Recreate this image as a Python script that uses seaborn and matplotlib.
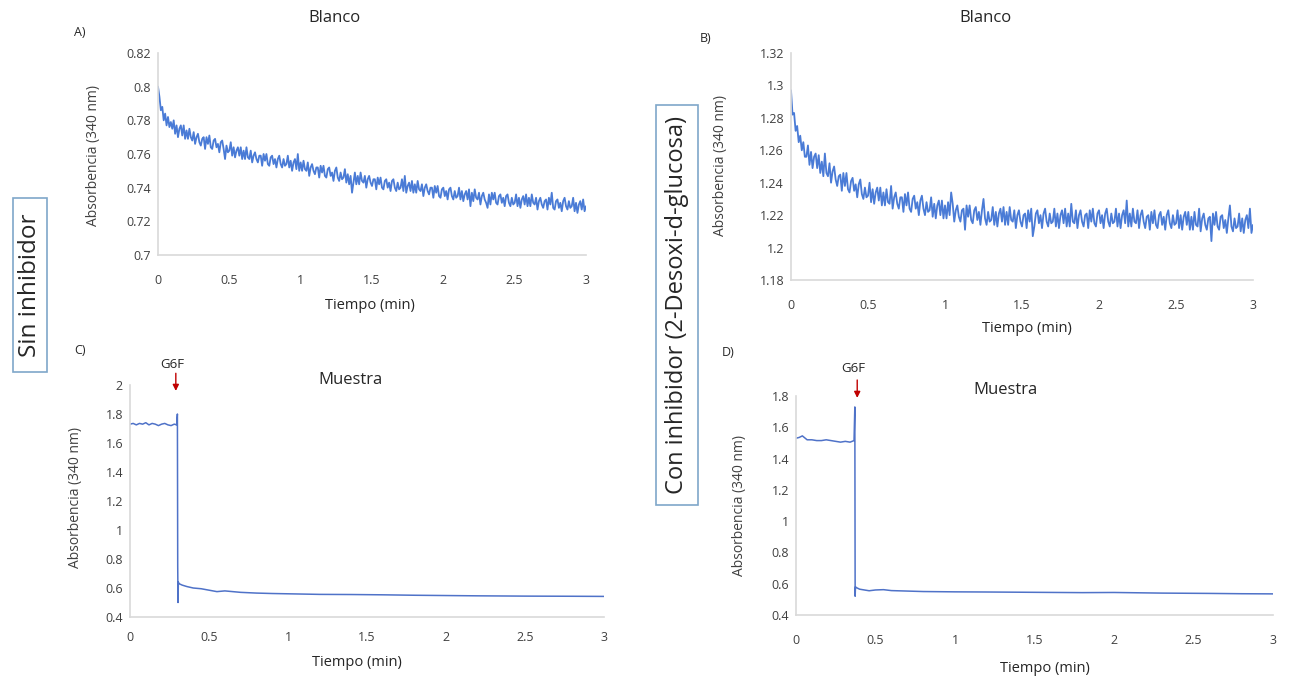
import numpy as np
import matplotlib
matplotlib.use("Agg")
import matplotlib.pyplot as plt
from matplotlib.patches import Rectangle
import seaborn as sns

# ---------------- data ----------------
# Panel A: Blanco, sin inhibidor (one reading every 0.01 min, 0-3 min)
blanco_a = [
    0.800, 0.794, 0.786, 0.788, 0.780, 0.784, 0.777, 0.782, 0.776, 0.779,
    0.775, 0.780, 0.772, 0.777, 0.770, 0.775, 0.777, 0.771, 0.777, 0.769,
    0.774, 0.769, 0.775, 0.770, 0.768, 0.773, 0.766, 0.770, 0.772, 0.767,
    0.765, 0.769, 0.770, 0.763, 0.770, 0.766, 0.771, 0.764, 0.763, 0.768,
    0.769, 0.764, 0.766, 0.761, 0.767, 0.768, 0.763, 0.757, 0.765, 0.761,
    0.762, 0.767, 0.759, 0.764, 0.758, 0.762, 0.764, 0.759, 0.764, 0.757,
    0.762, 0.757, 0.764, 0.758, 0.757, 0.762, 0.755, 0.759, 0.761, 0.757,
    0.755, 0.759, 0.759, 0.753, 0.760, 0.756, 0.760, 0.754, 0.753, 0.758,
    0.759, 0.754, 0.757, 0.752, 0.757, 0.759, 0.754, 0.752, 0.757, 0.753,
    0.754, 0.759, 0.752, 0.756, 0.750, 0.755, 0.757, 0.751, 0.760, 0.750,
    0.755, 0.750, 0.756, 0.751, 0.750, 0.755, 0.747, 0.752, 0.754, 0.750,
    0.748, 0.752, 0.752, 0.746, 0.753, 0.749, 0.753, 0.747, 0.746, 0.751,
    0.752, 0.747, 0.749, 0.744, 0.750, 0.752, 0.746, 0.744, 0.749, 0.745,
    0.746, 0.751, 0.743, 0.748, 0.742, 0.747, 0.737, 0.743, 0.749, 0.742,
    0.747, 0.742, 0.749, 0.744, 0.743, 0.747, 0.740, 0.745, 0.747, 0.743,
    0.741, 0.745, 0.745, 0.739, 0.746, 0.742, 0.746, 0.740, 0.739, 0.744,
    0.745, 0.740, 0.743, 0.738, 0.744, 0.745, 0.740, 0.738, 0.743, 0.739,
    0.740, 0.745, 0.738, 0.747, 0.737, 0.741, 0.743, 0.738, 0.744, 0.737,
    0.742, 0.737, 0.744, 0.739, 0.738, 0.742, 0.735, 0.740, 0.742, 0.738,
    0.736, 0.740, 0.740, 0.734, 0.741, 0.737, 0.741, 0.735, 0.734, 0.739,
    0.740, 0.735, 0.738, 0.733, 0.739, 0.740, 0.735, 0.733, 0.738, 0.734,
    0.735, 0.740, 0.733, 0.738, 0.732, 0.736, 0.738, 0.733, 0.739, 0.729,
    0.737, 0.732, 0.739, 0.734, 0.733, 0.737, 0.730, 0.735, 0.737, 0.733,
    0.731, 0.728, 0.736, 0.730, 0.737, 0.733, 0.737, 0.731, 0.730, 0.735,
    0.736, 0.731, 0.734, 0.729, 0.735, 0.736, 0.731, 0.729, 0.734, 0.730,
    0.731, 0.736, 0.729, 0.734, 0.728, 0.733, 0.735, 0.730, 0.736, 0.729,
    0.734, 0.729, 0.736, 0.731, 0.730, 0.734, 0.727, 0.732, 0.734, 0.730,
    0.728, 0.732, 0.733, 0.727, 0.734, 0.730, 0.737, 0.728, 0.727, 0.732,
    0.733, 0.728, 0.731, 0.726, 0.732, 0.734, 0.729, 0.727, 0.732, 0.728,
    0.729, 0.734, 0.726, 0.731, 0.725, 0.730, 0.732, 0.727, 0.733, 0.726,
    0.729,
]
# Panel B: Blanco, con inhibidor (same sampling)
blanco_b = [
    1.297, 1.282, 1.283, 1.272, 1.275, 1.265, 1.269, 1.260, 1.265, 1.256,
    1.256, 1.263, 1.251, 1.259, 1.249, 1.256, 1.258, 1.249, 1.257, 1.246,
    1.253, 1.244, 1.258, 1.246, 1.244, 1.252, 1.240, 1.247, 1.250, 1.242,
    1.238, 1.244, 1.245, 1.235, 1.246, 1.238, 1.246, 1.236, 1.234, 1.241,
    1.243, 1.235, 1.239, 1.231, 1.239, 1.242, 1.233, 1.230, 1.237, 1.231,
    1.232, 1.240, 1.228, 1.236, 1.227, 1.234, 1.237, 1.229, 1.237, 1.226,
    1.234, 1.226, 1.236, 1.228, 1.227, 1.238, 1.224, 1.231, 1.234, 1.227,
    1.224, 1.231, 1.231, 1.222, 1.233, 1.226, 1.234, 1.224, 1.222, 1.230,
    1.232, 1.224, 1.228, 1.220, 1.229, 1.232, 1.224, 1.220, 1.228, 1.222,
    1.223, 1.231, 1.219, 1.227, 1.218, 1.226, 1.229, 1.220, 1.229, 1.218,
    1.226, 1.218, 1.228, 1.220, 1.234, 1.227, 1.216, 1.223, 1.226, 1.219,
    1.216, 1.223, 1.224, 1.211, 1.226, 1.219, 1.226, 1.217, 1.215, 1.223,
    1.225, 1.217, 1.222, 1.214, 1.223, 1.230, 1.218, 1.214, 1.222, 1.216,
    1.217, 1.225, 1.214, 1.222, 1.213, 1.221, 1.224, 1.216, 1.225, 1.214,
    1.222, 1.214, 1.225, 1.217, 1.216, 1.223, 1.212, 1.220, 1.223, 1.216,
    1.213, 1.220, 1.221, 1.212, 1.223, 1.216, 1.224, 1.207, 1.213, 1.221,
    1.223, 1.215, 1.220, 1.212, 1.221, 1.224, 1.216, 1.213, 1.221, 1.215,
    1.216, 1.224, 1.213, 1.221, 1.212, 1.220, 1.223, 1.215, 1.224, 1.213,
    1.221, 1.213, 1.227, 1.216, 1.215, 1.223, 1.212, 1.220, 1.223, 1.216,
    1.213, 1.220, 1.221, 1.212, 1.223, 1.216, 1.224, 1.215, 1.213, 1.221,
    1.223, 1.215, 1.220, 1.212, 1.221, 1.224, 1.216, 1.213, 1.221, 1.215,
    1.216, 1.224, 1.213, 1.221, 1.212, 1.220, 1.223, 1.215, 1.229, 1.213,
    1.221, 1.213, 1.224, 1.216, 1.215, 1.223, 1.212, 1.220, 1.223, 1.216,
    1.212, 1.219, 1.220, 1.211, 1.222, 1.215, 1.223, 1.214, 1.212, 1.220,
    1.222, 1.214, 1.219, 1.211, 1.220, 1.223, 1.215, 1.212, 1.220, 1.214,
    1.215, 1.223, 1.212, 1.220, 1.211, 1.219, 1.222, 1.214, 1.222, 1.211,
    1.219, 1.211, 1.222, 1.214, 1.213, 1.224, 1.210, 1.218, 1.221, 1.214,
    1.211, 1.218, 1.219, 1.204, 1.221, 1.214, 1.222, 1.213, 1.211, 1.219,
    1.220, 1.212, 1.217, 1.209, 1.218, 1.226, 1.213, 1.210, 1.218, 1.212,
    1.213, 1.221, 1.210, 1.218, 1.209, 1.217, 1.220, 1.212, 1.224, 1.209,
    1.214,
]
blanco_time = np.arange(len(blanco_a)) * 0.01

# Panel C: Muestra, sin inhibidor
muestra_c_time = [0.00, 0.02, 0.04, 0.06, 0.08, 0.10, 0.12, 0.14, 0.16, 0.18, 0.20,
                  0.22, 0.24, 0.26, 0.28, 0.295,
                  0.300, 0.302, 0.304, 0.306, 0.31, 0.33, 0.36, 0.40, 0.45, 0.50,
                  0.55, 0.60, 0.65, 0.70, 0.80, 0.90, 1.00, 1.20, 1.40, 1.60, 1.80,
                  2.00, 2.20, 2.50, 2.80, 3.00]
muestra_c = [1.73, 1.735, 1.725, 1.735, 1.73, 1.74, 1.725, 1.735, 1.73, 1.72, 1.73,
             1.735, 1.725, 1.72, 1.73, 1.725,
             1.80, 0.75, 0.50, 0.64, 0.63, 0.62, 0.61, 0.60, 0.595, 0.585,
             0.575, 0.58, 0.575, 0.57, 0.565, 0.562, 0.560, 0.556, 0.555, 0.553, 0.550,
             0.548, 0.546, 0.544, 0.543, 0.542]

# Panel D: Muestra, con inhibidor
muestra_d_time = [0.00, 0.02, 0.04, 0.07, 0.10, 0.13, 0.16, 0.19, 0.22, 0.25, 0.28,
                  0.31, 0.34, 0.365, 0.370, 0.372, 0.374, 0.38, 0.40, 0.43, 0.46,
                  0.50, 0.55, 0.60, 0.70, 0.80, 1.00, 1.20, 1.50, 1.80, 2.00, 2.30,
                  2.60, 2.80, 3.00]
muestra_d = [1.53, 1.535, 1.545, 1.52, 1.52, 1.515, 1.515, 1.52, 1.515, 1.51, 1.505,
             1.51, 1.505, 1.515, 1.73, 0.52, 0.58, 0.575, 0.565, 0.560, 0.555,
             0.560, 0.562, 0.556, 0.553, 0.550, 0.548, 0.547, 0.545, 0.543, 0.544, 0.540,
             0.538, 0.536, 0.535]

x_ticks = [0, 0.5, 1, 1.5, 2, 2.5, 3]
x_ticklabels = ["0", "0.5", "1", "1.5", "2", "2.5", "3"]
a_yticks = [0.7, 0.72, 0.74, 0.76, 0.78, 0.8, 0.82]
a_yticklabels = ["0.7", "0.72", "0.74", "0.76", "0.78", "0.8", "0.82"]
b_yticks = [1.18, 1.2, 1.22, 1.24, 1.26, 1.28, 1.3, 1.32]
b_yticklabels = ["1.18", "1.2", "1.22", "1.24", "1.26", "1.28", "1.3", "1.32"]
c_yticks = [0.4, 0.6, 0.8, 1.0, 1.2, 1.4, 1.6, 1.8, 2.0]
c_yticklabels = ["0.4", "0.6", "0.8", "1", "1.2", "1.4", "1.6", "1.8", "2"]
d_yticks = [0.4, 0.6, 0.8, 1.0, 1.2, 1.4, 1.6, 1.8]
d_yticklabels = ["0.4", "0.6", "0.8", "1", "1.2", "1.4", "1.6", "1.8"]

# ---------------- style ----------------
sns.set_style("white")
plt.rcParams["font.family"] = ["Open Sans", "DejaVu Sans"]

W, H = 1302, 681
fig = plt.figure(figsize=(W / 100, H / 100), dpi=100)


def px(x, y):
    return x / W, 1 - y / H


def make_axes(x0, x1, ytop, ybot):
    return fig.add_axes([x0 / W, 1 - ybot / H, (x1 - x0) / W, (ybot - ytop) / H])


SPINE = "#d9d9d9"
TICKC = "#404040"
BLUE = "#4a7bd6"
BLUE2 = "#4f72c8"
TXT = "#262626"


def style(ax, yticks, yticklabels, ylim, xpad):
    ax.set_xlim(0, 3)
    ax.set_ylim(*ylim)
    ax.set_xticks(x_ticks)
    ax.set_xticklabels(x_ticklabels)
    ax.set_yticks(yticks)
    ax.set_yticklabels(yticklabels)
    ax.tick_params(length=0, labelsize=9, labelcolor=TICKC)
    ax.tick_params(axis="x", pad=xpad)
    ax.tick_params(axis="y", pad=5)
    for s in ["top", "right"]:
        ax.spines[s].set_visible(False)
    for s in ["left", "bottom"]:
        ax.spines[s].set_color(SPINE)
        ax.spines[s].set_linewidth(1.2)
    ax.set_xlabel("")
    ax.set_ylabel("")
    ax.grid(False)
    ax.patch.set_alpha(0)


axA = make_axes(158, 586, 53, 255)
sns.lineplot(x=blanco_time, y=blanco_a, ax=axA, color=BLUE, linewidth=1.3,
             estimator=None, sort=False)
style(axA, a_yticks, a_yticklabels, (0.7, 0.82), 14)

axB = make_axes(791, 1253, 53, 280)
sns.lineplot(x=blanco_time, y=blanco_b, ax=axB, color=BLUE, linewidth=1.3,
             estimator=None, sort=False)
style(axB, b_yticks, b_yticklabels, (1.18, 1.32), 14)

axC = make_axes(130, 604, 385, 617)
sns.lineplot(x=muestra_c_time, y=muestra_c, ax=axC, color=BLUE2, linewidth=1.1,
             estimator=None, sort=False)
style(axC, c_yticks, c_yticklabels, (0.4, 2.0), 10)

axD = make_axes(796, 1273, 396, 615)
sns.lineplot(x=muestra_d_time, y=muestra_d, ax=axD, color=BLUE2, linewidth=1.1,
             estimator=None, sort=False)
style(axD, d_yticks, d_yticklabels, (0.4, 1.8), 14)

# arrows marking G6F addition
arrow_kw = dict(arrowstyle="-|>", color="#c00000", lw=1.0, mutation_scale=9)
axC.annotate("", xy=(0.29, 1.94), xytext=(0.29, 2.10), arrowprops=arrow_kw,
             annotation_clip=False)
axD.annotate("", xy=(0.385, 1.77), xytext=(0.385, 1.92), arrowprops=arrow_kw,
             annotation_clip=False)

# texts
fig.text(*px(334, 18), "Blanco", ha="center", va="center", fontsize=12, color=TXT)
fig.text(*px(985, 18), "Blanco", ha="center", va="center", fontsize=12, color=TXT)
fig.text(*px(350, 380), "Muestra", ha="center", va="center", fontsize=12, color=TXT)
fig.text(*px(1006, 390), "Muestra", ha="center", va="center", fontsize=12, color=TXT)

fig.text(*px(80, 32), "A)", ha="center", va="center", fontsize=9, color=TXT)
fig.text(*px(706, 38), "B)", ha="center", va="center", fontsize=9, color=TXT)
fig.text(*px(80, 350), "C)", ha="center", va="center", fontsize=9, color=TXT)
fig.text(*px(728, 352), "D)", ha="center", va="center", fontsize=9, color=TXT)

fig.text(*px(172, 364), "G6F", ha="center", va="center", fontsize=9.5, color=TXT)
fig.text(*px(853, 368), "G6F", ha="center", va="center", fontsize=9.5, color=TXT)

for (x, y) in [(370, 306), (1027, 328), (357, 662), (1045, 668)]:
    fig.text(*px(x, y), "Tiempo (min)", ha="center", va="center", fontsize=10.5, color=TXT)

for (x, y) in [(93, 155), (720, 165), (75, 497), (740, 505)]:
    fig.text(*px(x, y), "Absorbencia (340 nm)", ha="center", va="center",
             fontsize=10, color=TICKC, rotation=90)

# side category boxes
BOXC = "#7fa7c9"
fig.patches.append(Rectangle(px(13, 372), 34 / W, 174 / H, transform=fig.transFigure,
                             fill=False, edgecolor=BOXC, linewidth=1.2))
fig.text(*px(30, 285), "Sin inhibidor", ha="center", va="center", fontsize=17.5,
         rotation=90, color=TXT)
fig.patches.append(Rectangle(px(656, 505), 42 / W, 400 / H, transform=fig.transFigure,
                             fill=False, edgecolor=BOXC, linewidth=1.2))
fig.text(*px(677, 305), "Con inhibidor (2-Desoxi-d-glucosa)", ha="center", va="center",
         fontsize=17, rotation=90, color=TXT)

fig.savefig("out.png", dpi=100)
